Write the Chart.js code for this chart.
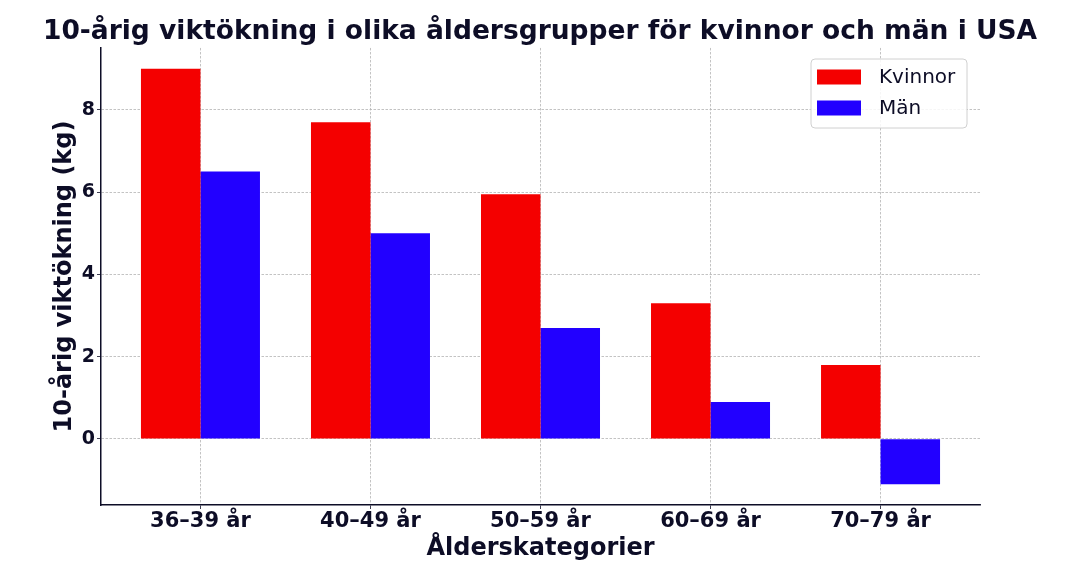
<!DOCTYPE html>
<html lang="sv">
<head>
    <meta charset="UTF-8">
    <title>10-årig viktökning</title>
    <script src="https://cdn.jsdelivr.net/npm/chart.js"></script>
    <style>
        html, body { margin: 0; padding: 0; background: #fff; }
        #wrap { width: 1080px; height: 573px; }
    </style>
</head>
<body>
    <div id="wrap"><canvas id="weightChart"></canvas></div>
    <script>
        // data
        const categories = ['36–39 år', '40–49 år', '50–59 år', '60–69 år', '70–79 år'];
        const women = [9.0, 7.7, 5.95, 3.3, 1.8];
        const men = [6.5, 5.0, 2.7, 0.9, -1.1];
        const yTicks = [0, 2, 4, 6, 8];

        const ink = '#0d0d26';
        const font = 'DejaVu Sans';

        function points(values) {
            return values.map((v, i) => ({ x: i, y: v }));
        }

        // title centred on the whole figure, not on the plot
        const wideTitle = {
            id: 'wideTitle',
            afterLayout(chart) {
                chart.titleBlock.left = 0;
                chart.titleBlock.right = chart.width;
                chart.titleBlock.width = chart.width;
            }
        };

        // legend with a rounded box, drawn inside the plot like matplotlib
        const boxLegend = {
            id: 'boxLegend',
            afterDraw(chart) {
                const ctx = chart.ctx;
                const x = 811, y = 59, w = 156, h = 69;
                ctx.save();
                ctx.fillStyle = 'rgba(255,255,255,0.85)';
                ctx.strokeStyle = '#d0d0d0';
                ctx.lineWidth = 1;
                ctx.beginPath();
                ctx.roundRect(x, y, w, h, 4);
                ctx.fill();
                ctx.stroke();
                ctx.font = '20px "' + font + '"';
                ctx.textBaseline = 'middle';
                chart.data.datasets.forEach((ds, i) => {
                    const cy = 77 + i * 31;
                    ctx.fillStyle = ds.backgroundColor;
                    ctx.fillRect(817, cy - 7.5, 44, 15);
                    ctx.fillStyle = ink;
                    ctx.fillText(ds.label, 879, cy + 1);
                });
                ctx.restore();
            }
        };

        const gridOpts = { color: '#b4b4b4', lineWidth: 0.8, tickColor: ink, tickLength: 4 };
        const borderOpts = { color: ink, width: 1.5, dash: [2.5, 1.5] };

        new Chart(document.getElementById('weightChart'), {
            type: 'bar',
            data: {
                datasets: [
                    { label: 'Kvinnor', data: points(women), backgroundColor: '#f40000' },
                    { label: 'Män', data: points(men), backgroundColor: '#2200ff' }
                ]
            },
            options: {
                responsive: true,
                maintainAspectRatio: false,
                animation: false,
                categoryPercentage: 0.7,
                barPercentage: 1.0,
                layout: { padding: { left: 0, right: 100, top: 0, bottom: 0 } },
                plugins: {
                    legend: { display: false },
                    tooltip: { enabled: false },
                    title: {
                        display: true,
                        text: '10-årig viktökning i olika åldersgrupper för kvinnor och män i USA',
                        color: ink,
                        font: { family: font, size: 26.5, weight: 'bold', lineHeight: 1.1 },
                        padding: { top: 18, bottom: 0.8 }
                    }
                },
                scales: {
                    x: {
                        type: 'linear',
                        min: -0.585,
                        max: 4.585,
                        offset: false,
                        afterBuildTicks(scale) {
                            scale.ticks = categories.map((c, i) => ({ value: i }));
                        },
                        afterFit(scale) { scale.height = 68; },
                        ticks: {
                            callback: (v) => categories[v],
                            color: ink,
                            font: { family: font, size: 21, weight: 'bold' },
                            padding: 0,
                            maxRotation: 0,
                            autoSkip: false
                        },
                        grid: Object.assign({ offset: false }, gridOpts),
                        border: borderOpts,
                        title: {
                            display: true,
                            text: 'Ålderskategorier',
                            color: ink,
                            font: { family: font, size: 24, weight: 'bold' },
                            padding: { top: 0, bottom: 9.5 }
                        }
                    },
                    y: {
                        min: -1.605,
                        max: 9.505,
                        afterBuildTicks(scale) {
                            scale.ticks = yTicks.map(v => ({ value: v }));
                        },
                        afterFit(scale) { scale.width = 101; },
                        ticks: {
                            color: ink,
                            font: { family: font, size: 19, weight: 'bold' },
                            padding: 2
                        },
                        grid: gridOpts,
                        border: borderOpts,
                        title: {
                            display: true,
                            text: '10-årig viktökning (kg)',
                            color: ink,
                            font: { family: font, size: 24, weight: 'bold' },
                            padding: { top: 50, bottom: 0 }
                        }
                    }
                }
            },
            plugins: [wideTitle, boxLegend]
        });
    </script>
</body>
</html>
